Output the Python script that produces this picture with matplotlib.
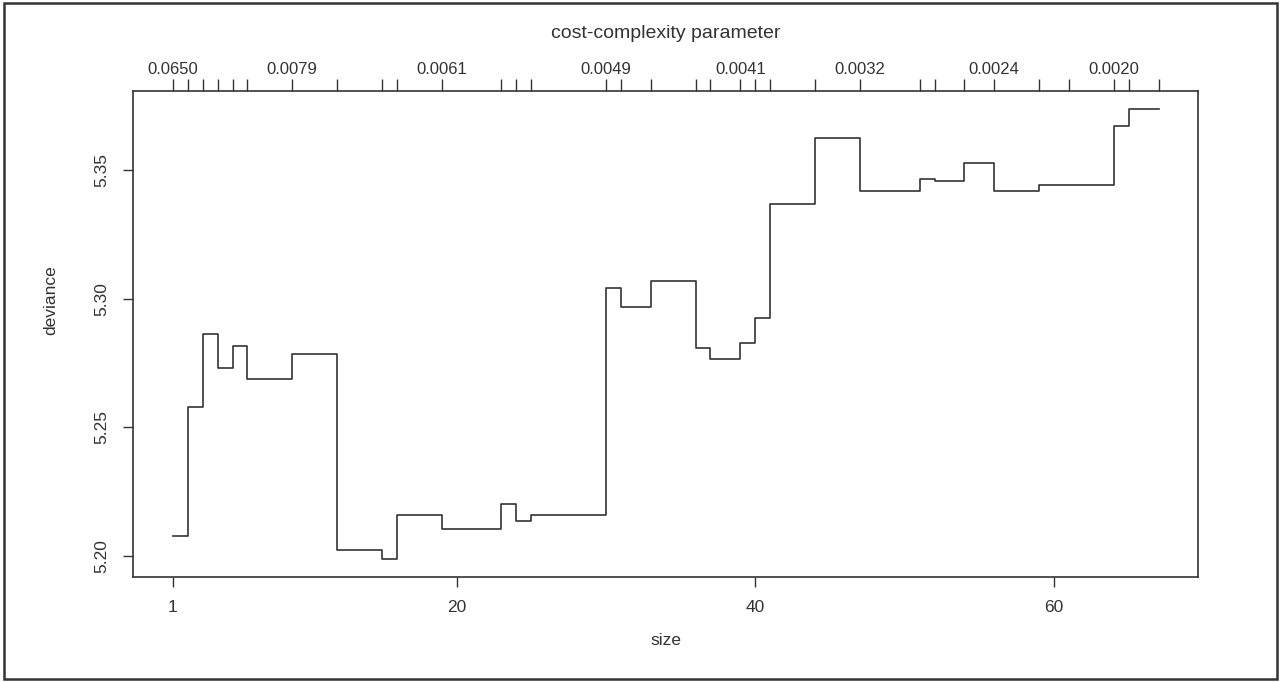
import matplotlib
matplotlib.use("Agg")
import matplotlib.pyplot as plt
from matplotlib.patches import Rectangle

# tree sizes of the pruning sequence and the deviance level of each step
sizes = [1, 2, 3, 4, 5, 6, 9, 12, 15, 16, 19, 23, 24, 25, 30, 31, 33,
         36, 37, 39, 40, 41, 44, 47, 51, 52, 54, 56, 59, 61, 64, 65, 67]
deviance = [5.2076, 5.2580, 5.2861, 5.2729, 5.2815, 5.2689, 5.2783, 5.2023,
            5.1988, 5.2159, 5.2103, 5.2201, 5.2135, 5.2159, 5.3043, 5.2969,
            5.3068, 5.2806, 5.2767, 5.2828, 5.2926, 5.3368, 5.3624, 5.3419,
            5.3467, 5.3457, 5.3528, 5.3418, 5.3441, 5.3443, 5.3673, 5.3738,
            5.3738]

# cost-complexity labels that survive on the top axis (others overlap)
k_labels = {1: "0.0650", 9: "0.0079", 19: "0.0061", 30: "0.0049",
            39: "0.0041", 47: "0.0032", 56: "0.0024", 64: "0.0020"}
size_ticks = [1, 20, 40, 60]
dev_ticks = [5.20, 5.25, 5.30, 5.35]

plt.rcParams["font.family"] = ["Liberation Sans", "DejaVu Sans"]
INK = "#333333"

fig = plt.figure(figsize=(12.81, 6.82), dpi=100)
ax = fig.add_axes([0.1041, 0.1544, 0.8311, 0.7122])

ax.step(sizes, deviance, where="post", color=INK, linewidth=1.2)

# R style axis range: data range plus 4% each side
xpad = (max(sizes) - min(sizes)) * 0.04
ypad = (max(deviance) - min(deviance)) * 0.04
ax.set_xlim(min(sizes) - xpad, max(sizes) + xpad)
ax.set_ylim(min(deviance) - ypad, max(deviance) + ypad)

for sp in ax.spines.values():
    sp.set_color(INK)
    sp.set_linewidth(1.2)

ax.set_xticks(size_ticks, labels=[str(s) for s in size_ticks])
ax.set_yticks(dev_ticks, labels=["%.2f" % v for v in dev_ticks],
              rotation=90, va="center")
ax.tick_params(direction="out", length=7, width=1, color=INK,
               labelcolor=INK, labelsize=12.5)
ax.tick_params(axis="x", pad=10)
ax.tick_params(axis="y", pad=10)

ax.set_xlabel("size", fontsize=12.5, color=INK, va="center")
ax.xaxis.set_label_coords(0.5, -0.132)
ax.set_ylabel("deviance", fontsize=12.5, color=INK, va="center")
ax.yaxis.set_label_coords(-0.078, 0.57)

# top axis: one tick per tree size, labelled with k
top = ax.secondary_xaxis("top")
top.set_xticks(sizes, labels=[k_labels.get(s, "") for s in sizes])
top.tick_params(direction="out", length=9, width=1, color=INK,
                labelcolor=INK, labelsize=12, pad=1)
top.spines["top"].set_visible(False)

fig.text(666 / 1281, 1 - 34 / 682, "cost-complexity parameter",
         ha="center", va="center", fontsize=14, color=INK)

# frame around the whole page
fig.add_artist(Rectangle((0.003, 0.004), 0.994, 0.992, transform=fig.transFigure,
                         fill=False, linewidth=1.8, edgecolor=INK))

fig.savefig("out.png", dpi=100)
